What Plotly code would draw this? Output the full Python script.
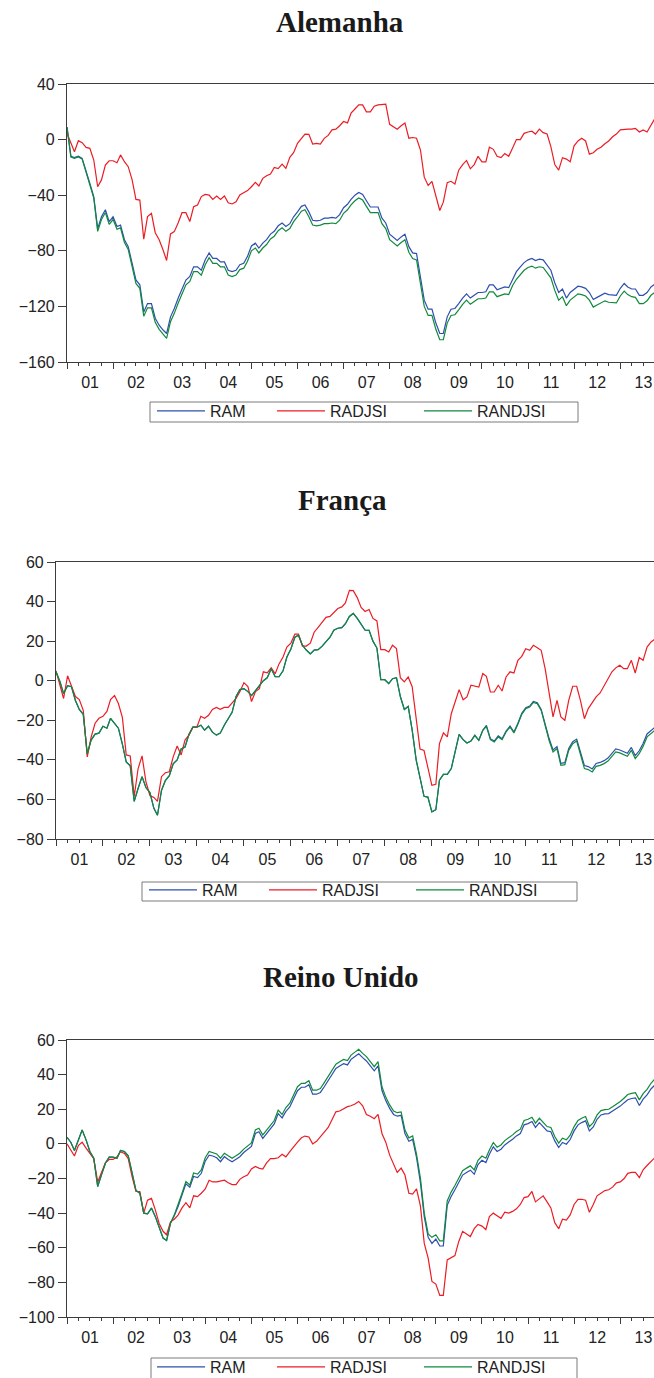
import plotly.graph_objects as go
import pandas as pd

# monthly observations, Jan 2001 onwards
months = pd.date_range("2001-01-01", periods=154, freq="MS")

series_names = ["RAM", "RADJSI", "RANDJSI"]
series_colors = ["#2f4fae", "#ec1c24", "#0f8a3c"]
panel_titles = ["Alemanha", "França", "Reino Unido"]

# Alemanha
ram_de = [9, -12, -13, -12, -13.5, -22, -31.5, -41, -64, -55.5,
          -50.5, -59, -55.5, -62.5, -61.5, -72, -77, -89, -101, -104.5,
          -124, -118, -118, -128.5, -133.5, -137, -139.5, -127.5, -121.5, -114,
          -107, -101, -98.5, -91.5, -91.5, -94, -86.5, -81.5, -85.5, -85.5,
          -88, -88, -94, -95, -94, -90, -89, -84, -76.5, -74.5,
          -78, -74.5, -72, -68, -66, -62, -60, -62.5, -60.5, -55.5,
          -52, -48, -47, -52, -58, -58.5, -58, -56.5, -56.5, -56,
          -56.5, -54, -49, -46.5, -43, -40, -38, -39.5, -44, -48.5,
          -48.5, -48.5, -56.5, -60, -68, -70, -72.5, -70, -68, -77,
          -81.5, -82, -98.5, -115.5, -122, -122, -132, -139.5, -139.5, -127.5,
          -122, -121.5, -118, -114, -111, -114, -112, -110, -110, -109.5,
          -104.5, -104.5, -108, -107, -106, -106.5, -100, -95, -91.5, -88.5,
          -86.5, -85.5, -87, -86, -86.5, -90, -94, -103, -110, -107.5,
          -114, -110, -108, -105.5, -106, -107, -110, -115, -113.5, -112,
          -110.5, -111.5, -111.5, -112, -107, -103.5, -106, -107.5, -107.5, -112,
          -112, -110, -106, -104]
radjsi_de = [4.5, -3, -8.7, -0.8, -2.2, -5.6, -6.3, -14.7, -33.9, -29,
             -18.3, -15.2, -15.2, -16.6, -11, -15.9, -19.5, -29, -43, -43.5,
             -71.7, -55.4, -53, -67, -72, -79.4, -87, -67.9, -66.2, -59.8,
             -52.6, -52.6, -59, -48.3, -47, -41, -39.4, -39.9, -43, -40.6,
             -43, -40.6, -45.4, -46.3, -44.7, -39.9, -38, -36.7, -33.9, -30.7,
             -33.4, -27.9, -26, -24.7, -20, -20.9, -17.6, -20.7, -12.8, -9.4,
             -2.7, 0.9, 4, 3.8, -3.2, -2.7, -3.2, 0.9, 3, 7,
             7.5, 10, 13, 12, 19, 22, 25, 25, 20, 20,
             24, 25, 25, 25.5, 11, 9, 7.5, 10, 12, 1,
             1.5, 1, -7.5, -27, -33, -30, -41, -51, -45, -31,
             -30, -32, -22, -18, -15, -21, -18, -12, -16, -16,
             -5.5, -7, -12, -13, -10, -12, -6, 0, 0, 4.5,
             5.5, 6, 4, 7.5, 5, 4, -5, -18, -22, -13,
             -14, -16, -4.5, -1, 1, -1, -10.5, -9.5, -7, -5.5,
             -3, -1, 2, 4, 7, 7.5, 7.5, 7.5, 8, 5.5,
             7, 5.5, 10, 15]
randjsi_de = [9, -12.5, -13.5, -12.5, -14, -23, -32.5, -42, -66, -57.5,
              -52.5, -61, -57.5, -64.5, -63.5, -74, -79, -91, -103.5, -107,
              -127, -121, -121, -131.5, -136.5, -140, -143, -131, -125, -117.5,
              -110.5, -104.5, -102, -95, -95, -97.5, -90, -85, -89, -89,
              -91.5, -91.5, -97.5, -98.5, -97.5, -93.5, -92.5, -87.5, -80, -78,
              -81.5, -78, -75.5, -71.5, -69.5, -65.5, -63.5, -66, -64, -59,
              -55.5, -51.5, -50.5, -55.5, -61.5, -62, -61.5, -60.5, -60.5, -60,
              -60.5, -58, -53, -50.5, -47, -44, -42, -43.5, -48, -52.5,
              -52.5, -52.5, -60.5, -64, -72, -74, -76.5, -74, -72, -81,
              -85.5, -86.5, -103, -120, -126.5, -126.5, -136.5, -144, -144, -132,
              -126.5, -126, -122.5, -118.5, -115.5, -118.5, -116.5, -114.5, -114.5, -114,
              -109.5, -109.5, -113, -112, -111, -111.5, -105, -100.5, -97, -94,
              -92, -91, -92.5, -91.5, -92, -95.5, -99.5, -108.5, -115.5, -113,
              -119.5, -115.5, -113.5, -111, -111.5, -112.5, -115.5, -120.5, -119, -117.5,
              -116, -117, -117, -117.5, -112.5, -109, -111.5, -113, -113.5, -118,
              -118, -116, -112, -110]

# França
ram_fr = [4.5, -0.5, -6.5, -2.5, -3, -10, -14.5, -17, -37, -30,
          -27, -26.5, -23, -24, -19, -21.5, -24, -32, -41, -43,
          -61, -54.5, -48.5, -54, -56.5, -64.5, -68, -55.5, -50.5, -48,
          -42, -40, -34.5, -33.5, -27, -23.5, -23.5, -22.5, -25, -23,
          -26, -27.5, -26.5, -22.5, -19, -16, -8, -4.5, -4, -5.5,
          -7.5, -5, -3, 0, 1.5, 6, 2, 2, 5, 12,
          16, 22, 23, 18, 15.5, 13.5, 15.5, 15.7, 17.5, 19.6,
          22, 25.5, 26.5, 26.8, 28.8, 32.5, 34, 31.5, 28.5, 25.5,
          25.5, 20, 16.5, 0.5, 0.5, -1.5, 1, 1.5, -8, -14.5,
          -13, -25, -40, -50, -58.4, -58.8, -66.3, -65.2, -50.3, -47.3,
          -47.3, -44.4, -35.2, -27.1, -29.8, -31.5, -30.5, -27.6, -30.1, -25.1,
          -22.6, -29.3, -30.5, -27.9, -29.3, -25.4, -22.9, -25.9, -21.5, -16.5,
          -13.6, -12.8, -10.5, -11.1, -14.5, -22.4, -29.1, -35, -33.3, -41.8,
          -41.4, -34.2, -30.8, -29.5, -36.2, -42.9, -43.4, -44.6, -41.8, -41.3,
          -40.4, -39.1, -36.7, -34.5, -35, -35.7, -36.7, -33.7, -37.9, -35.4,
          -31.7, -26.9, -24.9, -23.5]
radjsi_fr = [5, -3, -9, 2.5, -2.5, -8, -9.5, -15, -38.5, -28.5,
             -21.5, -19, -18, -15.5, -9.5, -7.5, -11.5, -18.5, -37.5, -38,
             -58.5, -44.5, -38, -51, -58, -59, -61, -48.5, -46.5, -46,
             -38.5, -33, -37.5, -30, -27.5, -23.5, -23.5, -18, -19, -17.5,
             -14.5, -13.5, -14.5, -13.5, -13.5, -11.5, -9, -5.5, -1, -3,
             -10.5, -5.5, -4, 4.5, 4, 6.5, 3.5, 8.5, 12, 17,
             19, 23.5, 23.5, 17.5, 17.5, 19, 24.5, 27, 29.5, 32,
             32.5, 34.5, 36.5, 37.3, 39.3, 45.7, 45.5, 42, 37, 35,
             36, 31.5, 30.2, 15.7, 15.7, 14.5, 17.9, 16.2, 1.5, -0.6,
             1.9, -3, -20, -34.5, -35.2, -43.6, -52.9, -52.4, -31.8, -26.4,
             -28.4, -16.7, -10.8, -4.5, -9.6, -8.2, -2.3, -2.8, -3.2, 3.6,
             2.2, -5.7, -5.7, -2.3, -5.2, 1.9, 4.5, 3.9, 10.3, 12.3,
             16.2, 15.4, 17.9, 16.7, 15.4, 6, -4.9, -18.3, -9.9, -18.3,
             -20, -9.9, -2.8, -2.8, -9.9, -19.2, -14.1, -11.3, -8.2, -6.2,
             -2.5, 1.5, 4.5, 6.5, 7.8, 6.1, 6.1, 10.3, 3.9, 11.7,
             10.3, 17, 19.6, 21]
randjsi_fr = [4.5, -0.5, -6.5, -2.5, -3, -10, -14.5, -17, -37, -30,
              -27, -26.5, -23, -24, -19, -21.5, -24, -32, -41, -43,
              -61, -54.5, -48.5, -54, -56.5, -64.5, -68, -55.5, -50.5, -48,
              -42, -40, -34.5, -33.5, -27, -23.5, -23.5, -22.5, -25, -23,
              -26, -27.5, -26.5, -22.5, -19, -16, -8, -4.5, -4, -5.5,
              -7.5, -5, -3, 0, 1.5, 6, 2, 2, 5, 12,
              16, 22, 23, 18, 15.5, 13.5, 15.5, 15.7, 17.5, 19.6,
              22, 25.5, 26.5, 26.8, 28.8, 32.5, 34, 31.5, 28.5, 25.5,
              25.5, 20, 16.5, 0.5, 0.5, -1.5, 1, 1.5, -8, -14.5,
              -13, -25, -40, -50, -58.4, -58.8, -66.3, -65.2, -50.3, -47.3,
              -47.3, -44.4, -35.2, -27.1, -29.8, -31.5, -30.5, -27.6, -30.1, -25.1,
              -23.1, -29.8, -31, -28.4, -29.8, -25.9, -23.4, -26.4, -22, -17,
              -14.1, -13.3, -11, -11.6, -15, -23.4, -30.1, -36, -34.3, -42.8,
              -42.4, -35.2, -31.8, -30.5, -37.2, -44.4, -44.9, -46.1, -43.3, -42.8,
              -41.9, -40.6, -38.2, -36, -36.5, -37.2, -38.2, -35.2, -39.4, -36.9,
              -33.2, -28.4, -26.4, -25]

# Reino Unido
ram_uk = [3.8, 0.8, -3.8, 2.3, 8, 2.3, -4.4, -8.3, -24.6, -17.9,
          -11.2, -7.7, -7.7, -8.3, -3.8, -4.4, -6.9, -16.9, -26.9, -28.5,
          -40, -40.4, -37.1, -41.9, -48.7, -54.4, -55.8, -45.8, -41.5, -36,
          -29.5, -23, -25, -18.8, -19.5, -17, -10, -6.5, -7, -8,
          -10.3, -7.4, -9, -10.3, -8.9, -7.4, -5, -3, -1.5, 6,
          7, 3.2, 6, 9, 11.5, 17.5, 15, 18.8, 21.3, 26,
          30.7, 32.7, 32.7, 34.2, 28.7, 28.7, 29.7, 33, 36.6, 39.6,
          43.6, 45, 46.3, 45.6, 48.8, 50.5, 52, 49.8, 47.9, 45,
          42.2, 45, 30.8, 25, 20.5, 17, 16, 16.5, 6, 1.5,
          2.6, -8, -22.5, -42, -54, -57.5, -55, -59, -59, -35.5,
          -30.5, -26.5, -22.5, -18, -16.5, -15.2, -17.5, -12, -9.5, -10.8,
          -6, -1.7, -4.4, -3.1, -0.6, 0.8, 2.7, 4.6, 6, 11,
          11.7, 12.9, 9.5, 12.3, 9.8, 7.5, 7, 1.7, -2.1, 0.8,
          -0.2, 2.5, 7.5, 11, 12.3, 13.3, 7.5, 9.8, 14.2, 16.7,
          17.3, 17.5, 19, 20.3, 21.8, 23.8, 25.5, 26.2, 26.6, 22.2,
          25.8, 28.3, 31.7, 34]
radjsi_uk = [0, -3.5, -7, -1, 1, -2.5, -5.5, -8.5, -22, -17,
             -11, -9, -9, -7.5, -4.5, -5.5, -8.5, -19, -27.5, -27.5,
             -40, -32.5, -31.5, -38, -46, -50.5, -52.5, -45, -43.5, -41,
             -37, -34, -37, -30, -30.5, -28.5, -26, -21, -22, -22,
             -21.5, -21, -22.5, -23.5, -23.5, -20.5, -19, -18, -14.5, -13,
             -14, -14.5, -11, -8.5, -8.5, -8, -6, -7.5, -4.5, -1.5,
             1, 3.5, 4.5, 4, 0, 1.5, 4, 7, 9.5, 14,
             18.5, 19, 20.5, 21.5, 22, 23, 24.5, 22, 17, 16,
             14.5, 17, 6, 1, -6.5, -11.5, -16.5, -14, -18, -28.5,
             -29, -26, -36, -57.5, -66, -79.5, -81, -87.5, -87.5, -67,
             -66, -64.5, -56.5, -50.5, -52, -53.5, -49, -46.5, -47.5, -49.5,
             -42, -40, -41.5, -43, -39.5, -40, -39, -37.5, -35, -31,
             -30.5, -27.5, -33.5, -31.5, -30, -33.5, -37, -45.5, -49, -43.5,
             -44, -41, -35, -32, -32, -32.5, -39.5, -35, -30, -28.5,
             -27, -26.5, -25, -22.5, -22, -20, -17, -16.5, -16.5, -19.5,
             -15, -12.5, -10, -8]
randjsi_uk = [3.8, 0.8, -3.8, 2.3, 8, 2.3, -4.4, -8.3, -24.6, -17.9,
              -11.2, -7.7, -7.7, -8.3, -3.8, -4.4, -6.9, -16.9, -26.9, -28.5,
              -40, -40.4, -37.1, -41.9, -48.7, -54.4, -55.8, -45.8, -41, -35.2,
              -28.5, -21.7, -23.7, -16.8, -17.5, -15, -8, -4.4, -5, -5.8,
              -8.3, -5.4, -6.9, -8.3, -6.9, -5.4, -3, -1, 0.5, 8,
              9, 5.2, 8, 11, 13.5, 19.5, 17, 21, 23.5, 28.3,
              33, 35, 35, 36.5, 31, 31, 32, 35.4, 39, 42,
              46, 47.5, 48.8, 48.1, 51.3, 53, 54.6, 52.3, 50.4, 47.5,
              44.6, 47.5, 33, 27, 22.5, 19, 18, 18.5, 8, 3.5,
              4.6, -6, -20, -40, -52, -54, -52.5, -56, -56, -33,
              -28, -24, -20, -15.5, -14, -12.7, -15, -9.5, -7, -8.3,
              -3.5, 0.8, -1.9, -0.6, 1.9, 3.3, 5.2, 7.1, 8.5, 13.5,
              14.2, 15.4, 12, 14.8, 12.3, 10, 9.5, 4.2, 0.4, 3.3,
              2.3, 5, 10, 13.5, 14.8, 15.8, 10, 12.3, 16.7, 19.2,
              19.8, 20, 21.5, 22.8, 24.5, 26.5, 28.5, 29.2, 29.6, 25.4,
              29, 31.5, 35, 37.5]

panel_data = [
    [ram_de, radjsi_de, randjsi_de],
    [ram_fr, radjsi_fr, randjsi_fr],
    [ram_uk, radjsi_uk, randjsi_uk],
]
y_ranges = [[-160, 40], [-80, 60], [-100, 60]]
y_steps = [40, 20, 20]
x_ends = ["2013-09-25", "2013-09-24", "2013-09-25"]

W, H = 654, 1378


def px(x):
    return x / W


def py(y):
    return 1 - y / H


# pixel boxes of the three plot areas (left, top, bottom)
boxes = [(67, 84, 362), (56, 562, 839), (67, 1040, 1317)]
title_pos = [(340, 22), (342, 500), (341, 977)]
legend_pos = [(152, 394), (144, 873), (152, 1350)]
legend_frames = [(150, 402, 578, 422), (142, 882, 577, 901), (151, 1358, 577, 1392)]
entry_widths = [57, 84, 80]

axis_col = "#3c3c3c"
tick_font = dict(family="Liberation Sans, Arial", size=16, color="#222222")

fig = go.Figure()
layout = dict(
    width=W, height=H,
    margin=dict(l=0, r=0, t=0, b=0, autoexpand=False),
    paper_bgcolor="white", plot_bgcolor="white",
    annotations=[], shapes=[],
)

for p in range(3):
    sfx = "" if p == 0 else str(p + 1)
    leg = "legend" if p == 0 else "legend" + str(p + 1)
    for name, col, vals, ew in zip(series_names, series_colors, panel_data[p], entry_widths):
        fig.add_trace(go.Scatter(
            x=months, y=vals, name=name, mode="lines",
            line=dict(color=col, width=1.2),
            xaxis="x" + sfx, yaxis="y" + sfx, legend=leg,
            legendwidth=ew, showlegend=True,
        ))

    left, top, bottom = boxes[p]
    layout["xaxis" + sfx] = dict(
        domain=[px(left), 1], anchor="y" + sfx, type="date", automargin=False,
        range=["2001-01-01", x_ends[p]],
        tick0="2001-01-01", dtick="M12", tickformat="%y",
        ticklabelmode="period", ticklabeloverflow="allow",
        ticks="outside", ticklen=6, tickwidth=1,
        tickcolor=axis_col, showline=True, linecolor=axis_col, linewidth=1.2,
        mirror=True, showgrid=False, zeroline=False, tickfont=tick_font,
        minor=dict(dtick="M3", tick0="2001-01-01", ticks="outside", ticklen=3,
                   tickcolor=axis_col, showgrid=False),
    )
    layout["yaxis" + sfx] = dict(
        domain=[py(bottom), py(top)], anchor="x" + sfx, automargin=False,
        range=y_ranges[p], dtick=y_steps[p], tick0=0,
        ticks="outside", ticklen=8, tickwidth=1, tickcolor=axis_col,
        showline=True, linecolor=axis_col, linewidth=1.2,
        showgrid=False, zeroline=False, tickfont=tick_font,
    )

    lx, ly = legend_pos[p]
    layout[leg] = dict(
        orientation="h", x=px(lx), y=py(ly), xanchor="left", yanchor="top",
        xref="container", yref="container",
        borderwidth=0, bgcolor="rgba(0,0,0,0)",
        font=dict(family="Liberation Sans, Arial", size=16, color="#222222"),
        itemwidth=48,
    )
    fx0, fy0, fx1, fy1 = legend_frames[p]
    layout["shapes"].append(dict(
        type="rect", xref="paper", yref="paper",
        x0=px(fx0), x1=px(fx1), y0=py(fy1), y1=py(fy0),
        line=dict(color="#7a7a7a", width=1), fillcolor="rgba(0,0,0,0)", layer="below",
    ))

    tx, ty = title_pos[p]
    layout["annotations"].append(dict(
        text="<b>" + panel_titles[p] + "</b>", x=px(tx), y=py(ty),
        xref="paper", yref="paper", xanchor="center", yanchor="middle",
        showarrow=False,
        font=dict(family="Liberation Serif, Times New Roman", size=29, color="#1a1a1a"),
    ))

fig.update_layout(**layout)

# drop the default page margin so the figure fills the window exactly
page_fix = "document.body.style.margin='0';document.body.style.overflow='hidden';"
fig.write_html("out.html", post_script=page_fix, config={"displayModeBar": False})
